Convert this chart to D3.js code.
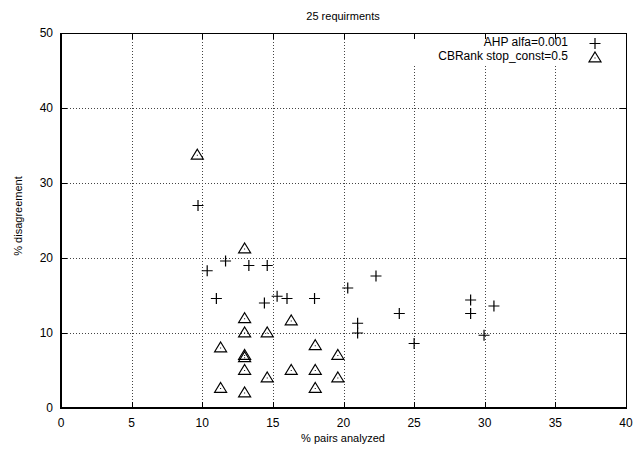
<!DOCTYPE html>
<html>
<head>
<meta charset="utf-8">
<script src="https://cdn.jsdelivr.net/npm/d3@7"></script>
<style>
  body { margin: 0; background: #fff; }
  svg text { font-family: "Liberation Sans", Arial, Helvetica, sans-serif; fill: #000; }
</style>
</head>
<body>
<svg id="chart" width="642" height="451"></svg>
<script>
// AHP alfa=0.001 (crosses)
const ahpX = [9.7, 10.35, 11.65, 13.3, 14.6, 11.0, 14.4, 15.3, 16.0, 17.95, 20.3, 22.3, 21.0, 21.0, 23.95, 25.0, 29.0, 29.0, 30.65, 29.95];
const ahpY = [27.0, 18.3, 19.6, 19.0, 19.0, 14.6, 14.0, 14.9, 14.6, 14.6, 16.0, 17.6, 11.3, 10.0, 12.6, 8.6, 14.4, 12.6, 13.6, 9.7];

// CBRank stop_const=0.5 (triangles)
const cbX = [9.65, 13.0, 13.0, 13.0, 14.6, 16.3, 11.3, 13.0, 13.0, 13.0, 14.6, 11.3, 13.0, 16.3, 18.0, 18.0, 18.0, 19.6, 19.6];
const cbY = [33.7, 21.2, 11.9, 10.0, 10.0, 11.6, 8.0, 7.0, 6.7, 5.0, 4.0, 2.6, 2.0, 5.0, 8.3, 5.0, 2.6, 7.0, 4.0];

const xTicks = [0, 5, 10, 15, 20, 25, 30, 35, 40];
const yTicks = [0, 10, 20, 30, 40, 50];

const pLeft = 61, pRight = 626, pTop = 33, pBottom = 408;

const svg = d3.select("#chart");
const x = d3.scaleLinear().domain([0, 40]).range([pLeft, pRight]);
const y = d3.scaleLinear().domain([0, 50]).range([pBottom, pTop]);

// grid
const grid = svg.append("g")
  .attr("stroke", "#444")
  .attr("stroke-width", 1)
  .attr("stroke-dasharray", "1 2");
grid.selectAll(".gx").data(xTicks.slice(1, -1)).enter().append("line")
  .attr("x1", d => Math.round(x(d)) + 0.5).attr("x2", d => Math.round(x(d)) + 0.5)
  .attr("y1", pTop).attr("y2", pBottom);
grid.selectAll(".gy").data(yTicks.slice(1, -1)).enter().append("line")
  .attr("y1", d => Math.round(y(d)) + 0.5).attr("y2", d => Math.round(y(d)) + 0.5)
  .attr("x1", pLeft).attr("x2", pRight);

// key area blanks the grid
svg.append("rect")
  .attr("x", 398).attr("y", pTop + 1)
  .attr("width", pRight - 399).attr("height", 30)
  .attr("fill", "#fff");

// ticks (inward, on all four sides)
const ticks = svg.append("g").attr("stroke", "#000").attr("stroke-width", 1);
xTicks.forEach(d => {
  const px = Math.round(x(d)) + 0.5;
  ticks.append("line").attr("x1", px).attr("x2", px).attr("y1", pBottom).attr("y2", pBottom - 6);
  ticks.append("line").attr("x1", px).attr("x2", px).attr("y1", pTop).attr("y2", pTop + 6);
});
yTicks.forEach(d => {
  const py = Math.round(y(d)) + 0.5;
  ticks.append("line").attr("y1", py).attr("y2", py).attr("x1", pLeft).attr("x2", pLeft + 6);
  ticks.append("line").attr("y1", py).attr("y2", py).attr("x1", pRight).attr("x2", pRight - 6);
});

// frame: bottom and left heavier
svg.append("line").attr("x1", pLeft).attr("x2", pRight + 0.5).attr("y1", pTop + 0.5).attr("y2", pTop + 0.5)
  .attr("stroke", "#000");
svg.append("line").attr("x1", pRight + 0.5).attr("x2", pRight + 0.5).attr("y1", pTop).attr("y2", pBottom)
  .attr("stroke", "#000");
svg.append("line").attr("x1", pLeft).attr("x2", pRight + 1).attr("y1", pBottom).attr("y2", pBottom)
  .attr("stroke", "#000").attr("stroke-width", 2);
svg.append("line").attr("x1", pLeft).attr("x2", pLeft).attr("y1", pTop).attr("y2", pBottom + 1)
  .attr("stroke", "#000").attr("stroke-width", 2);

// tick labels
svg.append("g").selectAll("text").data(xTicks).enter().append("text")
  .attr("x", d => x(d)).attr("y", 427)
  .attr("text-anchor", "middle").attr("font-size", 12)
  .text(d => d);
svg.append("g").selectAll("text").data(yTicks).enter().append("text")
  .attr("x", 53).attr("y", d => y(d) + 4)
  .attr("text-anchor", "end").attr("font-size", 12)
  .text(d => d);

// labels
svg.append("text").attr("x", 343).attr("y", 20).attr("text-anchor", "middle")
  .attr("font-size", 11).text("25 requirments");
svg.append("text").attr("x", 343).attr("y", 442).attr("text-anchor", "middle")
  .attr("font-size", 11).text("% pairs analyzed");
svg.append("text").attr("transform", "translate(22,216) rotate(-90)")
  .attr("text-anchor", "middle").attr("font-size", 11).text("% disagreement");

// markers
function cross(g, cx, cy) {
  g.append("path")
    .attr("d", `M${cx - 5.5},${cy}H${cx + 5.5}M${cx},${cy - 5.5}V${cy + 5.5}`)
    .attr("stroke", "#000").attr("stroke-width", 1.2).attr("fill", "none");
}
function triangle(g, cx, cy) {
  g.append("path")
    .attr("d", `M${cx},${cy - 6}L${cx + 6},${cy + 3.8}L${cx - 6},${cy + 3.8}Z`)
    .attr("stroke", "#000").attr("stroke-width", 1.2).attr("fill", "none");
  g.append("rect").attr("x", cx - 0.5).attr("y", cy - 0.5)
    .attr("width", 1).attr("height", 1).attr("fill", "#000");
}

const marks = svg.append("g");
ahpX.forEach((v, i) => cross(marks, x(v), y(ahpY[i])));
cbX.forEach((v, i) => triangle(marks, x(v), y(cbY[i])));

// key
svg.append("text").attr("x", 568).attr("y", 46).attr("text-anchor", "end")
  .attr("font-size", 12).text("AHP alfa=0.001");
svg.append("text").attr("x", 568).attr("y", 60).attr("text-anchor", "end")
  .attr("font-size", 12).text("CBRank stop_const=0.5");
cross(marks, 595, 43.5);
triangle(marks, 595, 58);
</script>
</body>
</html>
